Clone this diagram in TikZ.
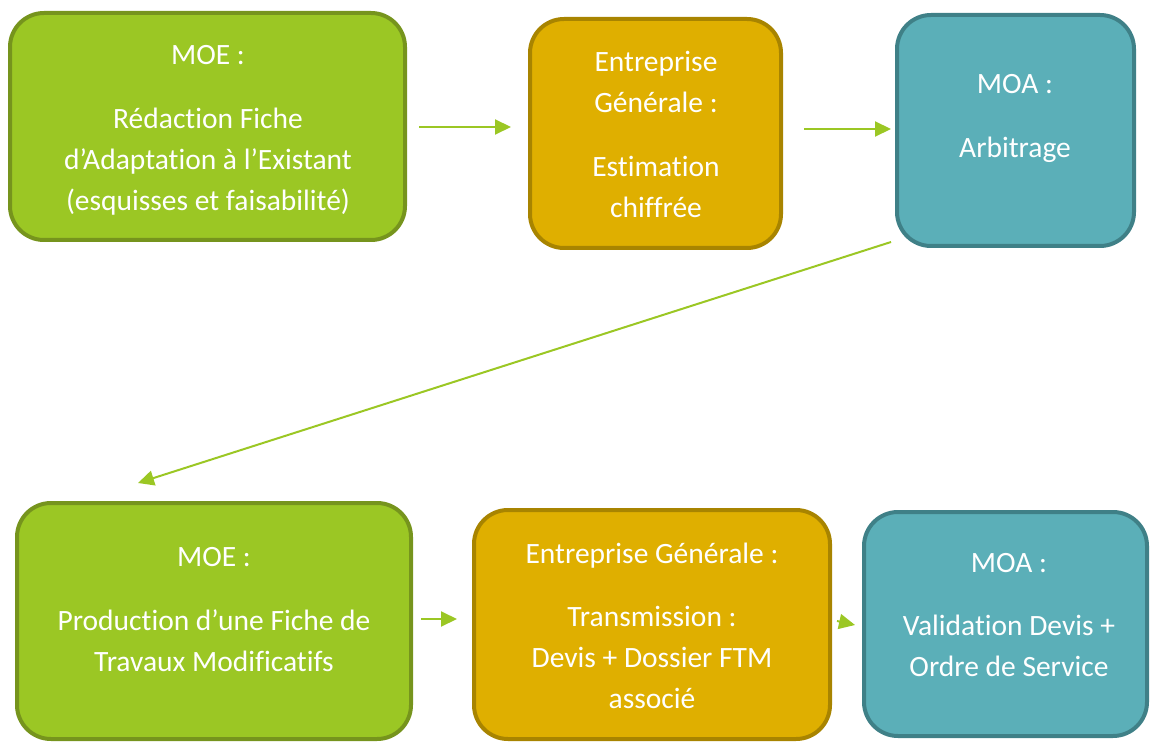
\documentclass[tikz,border=0pt]{standalone}
\usepackage{fontspec}
\setmainfont{Carlito}[Ligatures=NoCommon]
\usetikzlibrary{arrows.meta,calc}
\definecolor{gfill}{HTML}{9BC724}
\definecolor{gline}{HTML}{76941D}
\definecolor{ofill}{HTML}{DFAF00}
\definecolor{oline}{HTML}{A88400}
\definecolor{tfill}{HTML}{5BAFB8}
\definecolor{tline}{HTML}{3F8087}
\tikzset{
  boxbase/.style={rectangle, rounded corners=34pt, line width=4pt, inner sep=0pt},
  gbox/.style={boxbase, fill=gfill, draw=gline},
  obox/.style={boxbase, fill=ofill, draw=oline},
  tbox/.style={boxbase, fill=tfill, draw=tline},
  lbl/.style={anchor=base, text=white, inner sep=0pt, font=\fontsize{29.5}{41}\selectfont},
  arr/.style={draw=gfill, line width=2pt, -{Triangle[length=16pt,width=15pt]}},
}
\begin{document}
\begin{tikzpicture}[x=1pt,y=-1pt]
\useasboundingbox (0,0) rectangle (1150,743);
% boxes
\node[gbox, minimum width=395, minimum height=227] (b1) at (207.5,126.5) {};
\node[obox, minimum width=251, minimum height=229] (b2) at (655.5,133.5) {};
\node[tbox, minimum width=237, minimum height=231] (b3) at (1015.5,130.5) {};
\node[gbox, minimum width=394, minimum height=236] (b4) at (214,621) {};
\node[obox, minimum width=356, minimum height=229] (b5) at (652,624.5) {};
\node[tbox, minimum width=283, minimum height=224] (b6) at (1005.5,624) {};
% texts box 1
\node[lbl] (t1a) at (208,65) {MOE :};
\node[lbl] (t1b) at (208,129) {Rédaction Fiche};
\node[lbl] (t1c) at (208,170) {d’Adaptation à l’Existant};
\node[lbl] (t1d) at (208,211) {(esquisses et faisabilité)};
% box 2
\node[lbl] (t2a) at (656,72) {Entreprise};
\node[lbl] (t2b) at (656,113) {Générale :};
\node[lbl] (t2c) at (656,177) {Estimation};
\node[lbl] (t2d) at (656,218) {chiffrée};
% box 3
\node[lbl] (t3a) at (1015,94) {MOA :};
\node[lbl] (t3b) at (1015,158) {Arbitrage};
% box 4
\node[lbl] (t4a) at (214,566) {MOE :};
\node[lbl] (t4b) at (214,630) {Production d’une Fiche de};
\node[lbl] (t4c) at (214,671) {Travaux Modificatifs};
% box 5
\node[lbl] (t5a) at (652,563) {Entreprise Générale :};
\node[lbl] (t5b) at (652,626) {Transmission :};
\node[lbl] (t5c) at (652,667) {Devis + Dossier FTM};
\node[lbl] (t5d) at (652,708) {associé};
% box 6
\node[lbl] (t6a) at (1009,572) {MOA :};
\node[lbl] (t6b) at (1009,635) {Validation Devis +};
\node[lbl] (t6c) at (1009,676) {Ordre de Service};
% arrows
\draw[arr] ($(b1.east)+(12,0.5)$) -- ($(b2.west)+(-17,-6.5)$);
\draw[arr] ($(b2.east)+(21,-4.5)$) -- ($(b3.west)+(-4,-1.5)$);
\draw[arr] ($(b3.south west)+(-4,-6)$) -- ($(b4.north west)+(123,-18)$);
\draw[arr] ($(b4.east)+(8,-2)$) -- ($(b5.west)+(-15,-5.5)$);
\draw[arr] ($(b5.east)+(5,-3.5)$) -- ($(b6.west)+(-7,1)$);
\end{tikzpicture}
\end{document}
